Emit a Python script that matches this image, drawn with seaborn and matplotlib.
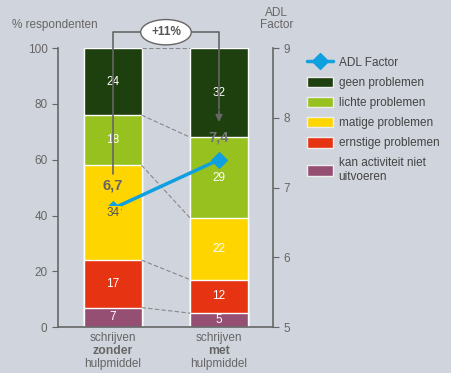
import matplotlib
matplotlib.use("Agg")
import matplotlib.pyplot as plt
import seaborn as sns
import pandas as pd
from matplotlib.lines import Line2D
from matplotlib.patches import Patch

# data
groups = ["zonder", "met"]
group_labels = [("schrijven", "zonder", "hulpmiddel"), ("schrijven", "met", "hulpmiddel")]
categories = ["kan activiteit niet\nuitvoeren", "ernstige problemen", "matige problemen",
              "lichte problemen", "geen problemen"]
zonder_vals = [7, 17, 34, 18, 24]
met_vals = [5, 12, 22, 29, 32]
adl_vals = [6.7, 7.4]
adl_labels = ["6,7", "7,4"]
delta_label = "+11%"

colors = ["#944F72", "#E63312", "#FFD500", "#96C11F", "#1E3F0E"]
BG = "#D0D4DC"
GREY = "#666666"
BLUE = "#0FA0E0"

rows = []
for g, vals in zip(groups, [zonder_vals, met_vals]):
    cum = 0
    for c, v in zip(categories, vals):
        rows.append({"group": g, "cat": c, "value": v, "bottom": cum, "top": cum + v})
        cum += v
df = pd.DataFrame(rows)

sns.set_style("white")
plt.rcParams["font.family"] = ["Liberation Sans", "DejaVu Sans"]

fig = plt.figure(figsize=(4.52, 3.73), dpi=100, facecolor=BG)
ax = fig.add_axes([0.128, 0.123, 0.476, 0.748])
ax.set_facecolor(BG)

XLIM = (-0.519, 1.509)

# stacked bars: draw cumulative tops from highest layer down
for i in reversed(range(len(categories))):
    sub = df[df["cat"] == categories[i]]
    sns.barplot(data=sub, x="group", y="top", order=groups, color=colors[i],
                width=0.54, edgecolor="white", linewidth=1, saturation=1, ax=ax)

ax.set_xlim(*XLIM)
ax.set_ylim(0, 100)
ax.set_yticks([0, 20, 40, 60, 80, 100])
ax.set_xticks([])
ax.set_xlabel("")
ax.set_ylabel("")
ax.tick_params(axis="y", colors=GREY, labelsize=8.5, length=4, width=0.8, direction="out", left=True)
for s in ["top", "right"]:
    ax.spines[s].set_visible(False)
ax.spines["left"].set_color(GREY)
ax.spines["bottom"].set_color(GREY)
ax.spines["left"].set_linewidth(1.2)
ax.spines["bottom"].set_linewidth(1.2)

# dashed connectors
zc = df[df["group"] == "zonder"]["top"].tolist()
mc = df[df["group"] == "met"]["top"].tolist()
for a, b in zip(zc, mc):
    ax.plot([0.27, 0.73], [a, b], ls=(0, (4, 2)), color="#888888", lw=0.8, zorder=1)

# x labels
for gi, (l1, l2, l3) in enumerate(group_labels):
    ax.text(gi, -3.9, l1, ha="center", va="center", color=GREY, fontsize=8.5)
    ax.text(gi, -8.5, l2, ha="center", va="center", color=GREY, fontsize=8.8, fontweight="bold")
    ax.text(gi, -13.1, l3, ha="center", va="center", color=GREY, fontsize=8.5)

# right axis with ADL factor
ax2 = ax.twinx()
ax2.set_ylim(5, 9)
ax2.set_yticks([5, 6, 7, 8, 9])
sns.lineplot(x=[0, 1], y=adl_vals, color=BLUE, marker="D", markersize=8,
             markeredgecolor=BLUE, lw=2.5, ax=ax2, zorder=5)
ax2.set_xlim(*XLIM)
ax2.tick_params(axis="y", colors=GREY, labelsize=8.5, length=4, width=0.8, right=True)
for s in ["top", "left", "bottom"]:
    ax2.spines[s].set_visible(False)
ax2.spines["right"].set_color(GREY)
ax2.spines["right"].set_linewidth(1.2)

# segment labels (drawn on top axis so the "34" can sit over the marker)
for gi, g in enumerate(groups):
    sub = df[df["group"] == g].reset_index(drop=True)
    for i, r in sub.iterrows():
        y = r["bottom"] + r["value"] / 2
        if g == "zonder" and i == 2:
            ax2.text(gi, 5 + y / 25, str(r["value"]), ha="center", va="center", color="#555555",
                     fontsize=8.5, zorder=8,
                     bbox=dict(boxstyle="square,pad=0.1", fc=colors[2], ec="none"))
        else:
            ax.text(gi, y, str(r["value"]), ha="center", va="center", color="white", fontsize=8.5)

ax2.text(0, 7.03, adl_labels[0], ha="center", va="center", color=GREY, fontsize=10.5, fontweight="bold")
ax2.text(1, 7.72, adl_labels[1], ha="center", va="center", color="#777777", fontsize=10.5, fontweight="bold")

# bracket with +11%
ax.plot([0, 0, 1, 1], [55, 105.7, 105.7, 78], color=GREY, lw=1.2, clip_on=False, zorder=6)
ax.annotate("", xy=(1, 72.5), xytext=(1, 78.5),
            arrowprops=dict(arrowstyle="-|>", color=GREY, lw=1.2, mutation_scale=10),
            annotation_clip=False, zorder=6)
ax.text(0.5, 105.7, delta_label, ha="center", va="center", color="#555555", fontsize=8.5,
        fontweight="bold", zorder=7,
        bbox=dict(boxstyle="ellipse,pad=0.25", fc="white", ec=GREY, lw=1))

# axis titles
fig.text(0.122, 0.933, "% respondenten", ha="center", va="center", color=GREY, fontsize=8.5)
fig.text(0.612, 0.948, "ADL\nFactor", ha="center", va="center", color=GREY, fontsize=8.5,
         linespacing=1.0)

# legend
handles = [Line2D([0], [0], color=BLUE, lw=2.5, marker="D", markersize=8)]
labels = ["ADL Factor"]
for c, lab in zip(reversed(colors), reversed(categories)):
    handles.append(Patch(facecolor=c, edgecolor="#EEEEEE", lw=1))
    labels.append(lab)
leg = fig.legend(handles, labels, loc="upper left", bbox_to_anchor=(0.655, 0.877),
                 frameon=False, fontsize=8.5, handlelength=2.2, handleheight=1.0,
                 labelspacing=0.66, handletextpad=0.5, labelcolor="#444444")

plt.savefig("out.png", dpi=100, facecolor=BG)
